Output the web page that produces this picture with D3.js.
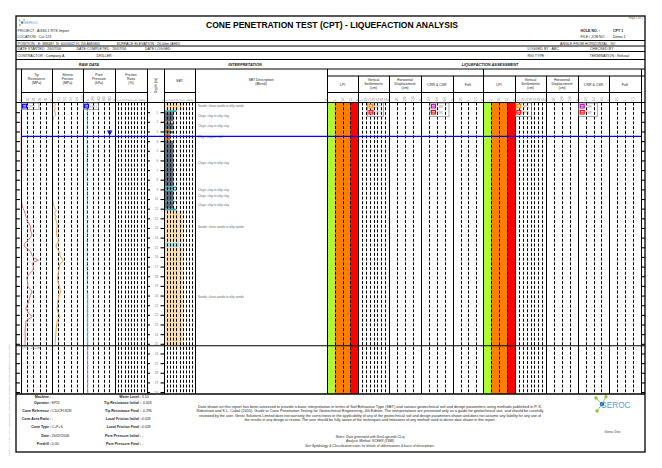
<!DOCTYPE html>
<html><head><meta charset="utf-8">
<script src="https://cdn.jsdelivr.net/npm/d3@7"></script>
<style>body{margin:0;background:#fff}svg{display:block}</style>
</head><body><svg id="c" width="662" height="468"></svg>
<script>
// ---------------- DATA ----------------
const depths = [0.0,0.2,0.4,0.6,0.8,1.0,1.3,1.5,2.0,3.0,4.0,5.0,6.0,7.0,8.0,8.8,9.2,10.0,10.5,10.8,11.0,11.2,11.5,11.8,12.0,12.2,12.5,12.9,13.2,13.5,13.75,14.0,14.3,14.6,14.8,15.0,15.3,15.5,15.8,16.1,16.35,16.5,16.7,17.0,17.4,17.7,18.1,18.5,19.1,19.4,19.6,20.0,20.5,21.0,21.35,21.8,22.2,22.6,23.0,23.6,24.2,25.0,25.2];
const tipResistance = [0.4,1.2,1.8,1.5,1.0,0.7,0.6,0.5,0.5,0.4,0.3,0.4,0.5,0.5,0.6,0.9,0.7,0.7,1.2,2.5,3.5,5.0,6.5,8.0,10.5,9.2,12.5,16.0,15.0,17.0,17.7,15.0,11.0,6.0,4.8,7.0,13.0,16.0,17.5,21.0,28.0,22.0,17.7,20.0,19.4,14.0,9.2,10.5,11.3,16.0,17.7,15.0,12.9,10.0,7.6,12.0,18.2,8.0,7.5,6.5,6.8,6.5,6.5];
const sleeveFriction = [0.01,0.065,0.03,0.06,0.04,0.05,0.06,0.025,0.01,0.008,0.006,0.006,0.008,0.008,0.01,0.012,0.01,0.01,0.02,0.035,0.05,0.07,0.04,0.065,0.05,0.065,0.08,0.085,0.07,0.075,0.075,0.09,0.11,0.08,0.065,0.07,0.1,0.13,0.125,0.15,0.175,0.17,0.13,0.12,0.11,0.1,0.09,0.095,0.12,0.13,0.14,0.11,0.095,0.09,0.08,0.1,0.13,0.085,0.075,0.065,0.06,0.05,0.05];
const porePressure = [0,2,0,-2,0,1,0,0,2,0,-1,0,0,1,0,0,2,0,0,-2,0,0,1,0,0,0,-1,0,0,2,0,0,0,-2,0,0,1,0,0,0,2,0,0,-1,0,0,0,1,0,0,0,-2,0,0,1,0,0,0,0,-1,0,0,0];
const hydroDepth = [19.7, 30.2];
const hydroPressure = [20, 20];

const sbtTop    = [0,0.8,1.0,1.95,2.1,2.8,2.95,3.2,3.95,8.7,8.85,9.0,9.15,10.2,10.3,11.0,11.2,14.5,15.0];
const sbtBottom = [0.8,1.0,1.95,2.1,2.8,2.95,3.2,3.95,8.7,8.85,9.0,9.15,10.2,10.3,11.0,11.2,14.5,15.0,25.2];
const sbtZone   = [6,4,3,2,3,2,3,2,3,4,3,4,3,4,3,4,6,5,6];

const descDepth = [0.36,1.39,2.38,3.56,6.26,9.06,9.68,10.6,12.9,20.1];
const descText = ["Sands: clean sands to silty sands","Clays: clay to silty clay","Clays: clay to silty clay","Clay - organic soil","Clays: clay to silty clay","Clays: clay to silty clay","Clays: clay to silty clay","Clays: clay to silty clay","Sands: clean sands to silty sands","Sands: clean sands to silty sands"];

const waterLevel = 3.5;
const endDepth = 25.2;
const lpiEdges = [0,5,15,20];

const tipTicks = [0,10,20,30,40];
const sleeveTicks = [0,0.1,0.2,0.3,0.4];
const poreTicks = [0,200,400,600,800];
const frTicks = [0,1,2,3,4,5,6,7,8,9];
const sbtTicks = [1,2,3,4,5,6,7,8,9];
const lpiTicks = [0,5,10,15];
const vsTicks = [0,5,10,15,20,25,30,35];
const hdTicks = [0,50,100,150];
const crrTicks = [0,0.2,0.4,0.6];
const fosTicks = [0,0.5,1,1.5];
const depthTicks = d3.range(1,31);

const footLeftLabels = ["Machine :","Operator :","Cone Reference :","Cone Area Ratio :","Cone Type :","Date :","Predrill :"];
const footLeftValues = ["-","EPI3","C10CFI.828/","-","C+F+S","26/07/2006","0.00"];
const footRightLabels = ["Water Level :","Tip Resistance Initial :","Tip Resistance Final :","Local Friction Initial :","Local Friction Final :","Pore Pressure Initial :","Pore Pressure Final :"];
const footRightValues = ["3.50","-0.026","-0.296","0.028","0.028","-","-"];

// ---------------- DRAW ----------------
const svg = d3.select('#c');
const F = '"Liberation Sans", Arial, Helvetica, sans-serif';
function T(x,y,s,o={}){
  const t=svg.append('text').attr('x',x).attr('y',y).text(s)
    .attr('font-size',o.size||3.6).attr('fill',o.fill||'#111')
    .attr('text-anchor',o.anchor||'start').attr('font-family',F);
  if(o.bold) t.attr('font-weight','bold');
  if(o.italic) t.attr('font-style','italic');
  if(o.len) t.attr('textLength',o.len).attr('lengthAdjust','spacingAndGlyphs');
  if(o.rot) t.attr('transform',`rotate(${o.rot},${x},${y})`);
  return t;
}
function L(x1,y1,x2,y2,o={}){
  const l=svg.append('line').attr('x1',x1).attr('y1',y1).attr('x2',x2).attr('y2',y2)
    .attr('stroke',o.stroke||'#000').attr('stroke-width',o.w||1);
  if(o.dash) l.attr('stroke-dasharray',o.dash);
  return l;
}
const P = v => Math.round(v)+0.5;

const X0=16, X1=645, Y0=16, Y1=452;
const plotTop=102.5, plotBot=394;
const y = d3.scaleLinear().domain([0,30.2]).range([plotTop,plotBot]);

const cols = {
  tip:[21,52], sleeve:[52,83], pore:[83,115], fr:[115,147], depth:[147,164], sbt:[164,195], desc:[195,327],
  lpi1:[327,358], vs1:[358,389], hd1:[389,421], crr1:[421,453], fos1:[453,483],
  lpi2:[483,515], vs2:[515,546], hd2:[546,578], crr2:[578,609], fos2:[609,641]
};
const xTip = d3.scaleLinear().domain([0,50]).range(cols.tip);
const xSleeve = d3.scaleLinear().domain([0,0.5]).range(cols.sleeve);
const xPore = d3.scaleLinear().domain([-150,1000]).range(cols.pore);
const xFr = d3.scaleLinear().domain([0,10]).range(cols.fr);
const xSbt = d3.scaleLinear().domain([0,10]).range(cols.sbt);
const mk = (c,d)=>d3.scaleLinear().domain(d).range(cols[c]);
const xLpi1=mk('lpi1',[0,20]), xLpi2=mk('lpi2',[0,20]);
const xVs1=mk('vs1',[0,40]), xVs2=mk('vs2',[0,40]);
const xHd1=mk('hd1',[0,200]), xHd2=mk('hd2',[0,200]);
const xCrr1=mk('crr1',[0,0.8]), xCrr2=mk('crr2',[0,0.8]);
const xFos1=mk('fos1',[0,2]), xFos2=mk('fos2',[0,2]);

// LPI colour bands
const bandColors=['#ADFF2F','#FF8000','#FF0000'];
[xLpi1,xLpi2].forEach(sc=>{
  svg.append('g').selectAll('rect').data(d3.range(3)).join('rect')
    .attr('x',i=>sc(lpiEdges[i])).attr('width',i=>sc(lpiEdges[i+1])-sc(lpiEdges[i]))
    .attr('y',plotTop).attr('height',plotBot-plotTop).attr('fill',i=>bandColors[i]);
});

// SBT bars
const sbtColor={2:'#C97A22',3:'#5F6F80',4:'#2FB4B4',5:'#A6E3E6',6:'#FBDDB0'};
svg.append('g').selectAll('rect').data(sbtZone).join('rect')
  .attr('x',cols.sbt[0]).attr('width',z=>xSbt(z)-cols.sbt[0])
  .attr('y',(z,i)=>y(sbtTop[i])).attr('height',(z,i)=>y(sbtBottom[i])-y(sbtTop[i]))
  .attr('fill',z=>sbtColor[z]);

// dashed gridlines
function grid(sc,ticks,c){
  ticks.forEach(t=>{ const xv=sc(t); if(xv<=cols[c][0]+0.6) return;
    L(P(xv),plotTop,P(xv),plotBot,{dash:'3,1.7',w:1}); });
}
grid(xTip,tipTicks,'tip'); grid(xSleeve,sleeveTicks,'sleeve'); grid(xPore,poreTicks,'pore');
grid(xFr,frTicks,'fr'); grid(xSbt,sbtTicks,'sbt');
grid(xLpi1,lpiTicks,'lpi1'); grid(xLpi2,lpiTicks,'lpi2');
grid(xVs1,vsTicks,'vs1'); grid(xVs2,vsTicks,'vs2');
grid(xHd1,hdTicks,'hd1'); grid(xHd2,hdTicks,'hd2');
grid(xCrr1,crrTicks,'crr1'); grid(xCrr2,crrTicks,'crr2');
grid(xFos1,fosTicks,'fos1'); grid(xFos2,fosTicks,'fos2');

// tick labels row
function tlab(sc,ticks){ ticks.forEach(t=>{ T(sc(t)+1.4,101,String(t),{size:2.8,fill:'#888',rot:-90}); }); }
tlab(xTip,tipTicks); tlab(xSleeve,sleeveTicks); tlab(xPore,[-150].concat(poreTicks)); tlab(xFr,frTicks); tlab(xSbt,[0].concat(sbtTicks));
tlab(xLpi1,lpiTicks); tlab(xLpi2,lpiTicks); tlab(xVs1,vsTicks); tlab(xVs2,vsTicks);
tlab(xHd1,hdTicks); tlab(xHd2,hdTicks); tlab(xCrr1,crrTicks); tlab(xCrr2,crrTicks); tlab(xFos1,fosTicks); tlab(xFos2,fosTicks);

// data lines
const idx = d3.range(depths.length);
svg.append('path').datum(idx).attr('fill','none').attr('stroke','#F07070').attr('stroke-width',1)
  .attr('d',d3.line().x(i=>xTip(tipResistance[i])).y(i=>y(depths[i])));
svg.append('path').datum(idx).attr('fill','none').attr('stroke','#F5A04A').attr('stroke-width',1)
  .attr('d',d3.line().x(i=>xSleeve(sleeveFriction[i])).y(i=>y(depths[i])));
svg.append('path').datum(idx).attr('fill','none').attr('stroke','#1EC8D8').attr('stroke-width',1).attr('stroke-dasharray','1.5,1')
  .attr('d',d3.line().x(i=>xPore(porePressure[i])).y(i=>y(depths[i])));
svg.append('path').datum([0,1]).attr('fill','none').attr('stroke','#9A9AF5').attr('stroke-width',1)
  .attr('d',d3.line().x(i=>xPore(hydroPressure[i])).y(i=>y(hydroDepth[i])));

// SBT descriptions
descText.forEach((s,i)=>T(198,y(descDepth[i])+1.2,s,{size:3.1,fill:'#666'}));

// column separators
[21,52,83,115,147,164,195,327,358,389,421,453,483,515,546,578,609,641].forEach(xv=>{
  const top = xv>327 && xv!==483 && xv!==641 ? 76 : 69;
  L(P(xv),top,P(xv),plotBot,{w:1});
});
L(P(483),69,P(483),76,{w:1});

// header lines
[40.5,46,51.5,59.5,69].forEach(v=>L(X0,v,X1,v,{w:1}));
L(327,76,X1,76,{w:1});
L(21,92.5,147,92.5,{w:1}); L(164,92.5,195,92.5,{w:1}); L(327,92.5,641,92.5,{w:1});
L(X0,plotTop,X1,plotTop,{w:1.2});
L(X0,plotBot,X1,plotBot,{w:1.3});

// end of test line & water level
L(X0,y(endDepth),X1,y(endDepth),{w:1.2});
T(21.5,y(endDepth)+3.6,"CPT1 : 25.20m",{size:2.8,fill:'#777'});
L(21,y(waterLevel),641,y(waterLevel),{stroke:'#0000FF',w:1.2});
const wx = xPore(800)+0.3, wy=y(waterLevel)-0.8;
svg.append('path').attr('d',`M${wx-2.4},${wy-4.2}L${wx+2.4},${wy-4.2}L${wx},${wy}Z`).attr('fill','#0000CC');
L(wx-2.6,wy-4.6,wx+2.6,wy-4.6,{stroke:'#0000CC',w:0.8});

// depth axes
const axL = svg.append('g').attr('transform',`translate(${X0},0)`).call(d3.axisRight(y).tickValues(depthTicks).tickSize(4).tickFormat(''));
const axR = svg.append('g').attr('transform',`translate(${X1},0)`).call(d3.axisLeft(y).tickValues(depthTicks).tickSize(4).tickFormat(''));
const axD1 = svg.append('g').attr('transform',`translate(147,0)`).call(d3.axisRight(y).tickValues(depthTicks).tickSize(3).tickFormat(''));
const axD2 = svg.append('g').attr('transform',`translate(164,0)`).call(d3.axisLeft(y).tickValues(depthTicks).tickSize(3.5).tickPadding(2.5));
[axL,axR,axD1,axD2].forEach(g=>{ g.select('.domain').remove(); g.selectAll('line').attr('stroke','#000').attr('stroke-width',1.1); });
axD2.selectAll('text').attr('font-size',2.9).attr('fill','#777').attr('font-family',F);

// legends
function icon(x,yy,c){
  svg.append('rect').attr('x',x).attr('y',yy).attr('width',4).attr('height',3.6).attr('fill','#fff').attr('stroke',c).attr('stroke-width',1.1);
  L(x,yy+1.8,x+4,yy+1.8,{stroke:c,w:0.9});
}
function legBox(x,yy,w,h){ svg.append('rect').attr('x',x).attr('y',yy).attr('width',w).attr('height',h).attr('fill','none').attr('stroke','#888').attr('stroke-width',0.7); }
legBox(21.5,103,17.5,6.5); icon(22.6,104.3,'#0000FF'); T(28,107.5,"CPT1",{size:2.7,fill:'#888'});
legBox(83.5,103,15,6.5); icon(84.6,104.3,'#0000FF'); T(90,107.5,"CPT1",{size:2.7,fill:'#888'});
[[367.5,369,'#FF8000','#FF0000',"CPT1","CPT1",16],[430,431.5,'#CC00CC','#FF0000',"CRR","CSR",19],
 [515.5,516.8,'#FF8000','#FF0000',"CPT1","CPT1",16],[578.8,580.2,'#CC00CC','#FF0000',"CRR","CSR",18.5]].forEach(d=>{
  legBox(d[0],103,d[6],13.5); icon(d[1],104.4,d[2]); icon(d[1],110.4,d[3]);
  T(d[1]+5.5,107.6,d[4],{size:2.7,fill:'#888'}); T(d[1]+5.5,113.6,d[5],{size:2.7,fill:'#888'});
});

// outer frame
svg.append('rect').attr('x',X0).attr('y',Y0).attr('width',X1-X0).attr('height',Y1-Y0).attr('fill','none').attr('stroke','#000').attr('stroke-width',1.3);

// ---------------- HEADER TEXT ----------------
T(332,28,"CONE PENETRATION TEST (CPT) - LIQUEFACTION ANALYSIS",{size:8.6,bold:true,anchor:'middle',len:252,fill:'#000'});
T(643,19,"Page 1 of 1",{size:2.8,anchor:'end',fill:'#555'});
// small top logo
[[19.5,20.5,'#8DC63F'],[24,19.8,'#8DC63F'],[20,25,'#8DC63F']].forEach(c=>svg.append('circle').attr('cx',c[0]).attr('cy',c[1]).attr('r',0.9).attr('fill',c[2]));
svg.append('circle').attr('cx',22).attr('cy',22.5).attr('r',1.2).attr('fill','#3A7FC4');
T(23,24.2,"GEROC",{size:4.2,fill:'#5B9BD5'});

const hs=3.6, hc='#222';
T(17.5,31.5,"PROJECT :  AGS3.1 RTS Import",{size:hs,fill:hc});
T(17.5,37.8,"LOCATION :  Cut 123",{size:hs,fill:hc});
T(17.5,44.5,"POSITION :  E: 388487, N: 6003442.91 (56 AMG84)",{size:hs,fill:hc});
T(116.5,44.5,"SURFACE ELEVATION :  26.00m (AHD)",{size:hs,fill:hc});
T(17.5,50,"DATE STARTED :  26/07/06",{size:hs,fill:hc});
T(76.5,50,"DATE COMPLETED :  26/07/06",{size:hs,fill:hc});
T(145,50,"DATE LOGGED :",{size:hs,fill:hc});
T(17.5,56.5,"CONTRACTOR :  Company A",{size:hs,fill:hc});
T(96.5,56.5,"DRILLER :",{size:hs,fill:hc});
T(580.5,31.5,"HOLE NO. :",{size:hs,fill:hc,bold:true});
T(613,31.5,"CPT 1",{size:hs,fill:hc,bold:true});
T(580.5,37.8,"FILE / JOB NO. :",{size:hs,fill:hc});
T(613,37.8,"Demo 1",{size:hs,fill:hc});
T(560,44.5,"ANGLE FROM HORIZONTAL : 90°",{size:hs,fill:hc});
T(527.5,50,"LOGGED BY :  ABC",{size:hs,fill:hc});
T(590,50,"CHECKED BY :",{size:hs,fill:hc});
T(527.5,56.5,"RIG TYPE :",{size:hs,fill:hc});
T(589.5,56.5,"TERMINATION :  Refusal",{size:hs,fill:hc});

T(89,65.8,"RAW DATA",{size:3.9,bold:true,italic:true,anchor:'middle'});
T(245,65.8,"INTERPRETATION",{size:3.9,bold:true,italic:true,anchor:'middle'});
T(490,65.8,"LIQUEFACTION ASSESSMENT",{size:3.9,bold:true,italic:true,anchor:'middle'});

function head(cx,lines,y0,step){ lines.forEach((s,i)=>T(cx,y0+i*step,s,{size:3.5,anchor:'middle',fill:'#222'})); }
head(36.5,["Tip","Resistance","(MPa)"],75.5,4);
head(67.5,["Sleeve","Friction","(MPa)"],75.5,4);
head(99,["Pore","Pressure","(kPa)"],75.5,4);
head(131,["Friction","Ratio","(%)"],75.5,4);
T(157,85.5,"Depth (m)",{size:3.5,anchor:'middle',rot:-90,fill:'#222'});
head(179.5,["SBT"],81.5,4);
head(261,["SBT Description","(Blend)"],81,4);
[[cols.lpi1,cols.vs1,cols.hd1,cols.crr1,cols.fos1],[cols.lpi2,cols.vs2,cols.hd2,cols.crr2,cols.fos2]].forEach(g=>{
  const c=a=>(a[0]+a[1])/2;
  head(c(g[0]),["LPI"],85.5,4);
  head(c(g[1]),["Vertical","Settlements","(cm)"],81,4);
  head(c(g[2]),["Horizontal","Displacement","(cm)"],81,4);
  head(c(g[3]),["CRR & CSR"],85.5,4);
  head(c(g[4]),["FoS"],85.5,4);
});

// ---------------- FOOTER ----------------
const fy=[397.8,404,412,420,428.3,436.7,445];
footLeftLabels.forEach((s,i)=>{ T(51,fy[i],s,{size:3.5,bold:true,anchor:'end',fill:'#222'}); T(51.8,fy[i],footLeftValues[i],{size:3.5,fill:'#222'}); });
footRightLabels.forEach((s,i)=>{ T(141,fy[i],s,{size:3.5,bold:true,anchor:'end',fill:'#222'}); T(141.8,fy[i],footRightValues[i],{size:3.5,fill:'#222'}); });

const disc=["Data shown on this report has been assessed to provide a basic interpretation in terms of Soil Behaviour Type (SBT) and various geotechnical soil and design parameters using methods published in P. K.",
"Robertson and K.L. Cabal (2010), Guide to Cone Penetration Testing for Geotechnical Engineering, 4th Edition. The interpretations are presented only as a guide for geotechnical use, and should be carefully",
"reviewed by the user. Geroc Solutions Limited does not warranty the correctness or the applicability of any of the geotechnical soil and design parameters shown and does not assume any liability for any use of",
"the results in any design or review. The user should be fully aware of the techniques and limitations of any method used to derive data shown in this report."];
const dlen=[344,347,342,251], dy=[407.5,412,416.5,421];
disc.forEach((s,i)=>T(370,dy[i],s,{size:3.3,anchor:'middle',len:dlen[i],fill:'#222'}));
T(370,438,"Notes: Data generated with GeoLogismiki CLiq",{size:3.3,italic:true,anchor:'middle',fill:'#222'});
T(370,442,"Analysis Method: NCEER (1998)",{size:3.3,italic:true,anchor:'middle',fill:'#222'});
T(370,446.5,"See Symbology & Classification notes for details of abbreviations & basis of descriptions.",{size:3.3,italic:true,anchor:'middle',fill:'#222'});
T(612.5,433,"Geroc Dev",{size:3.3,anchor:'middle',fill:'#333'});

// bottom logo
[[596,398],[606,396.8],[597,411]].forEach(c=>{ L(c[0],c[1],602,404,{stroke:'#8DC63F',w:0.9}); svg.append('circle').attr('cx',c[0]).attr('cy',c[1]).attr('r',1.7).attr('fill','#8DC63F'); });
svg.append('circle').attr('cx',602).attr('cy',404).attr('r',2.3).attr('fill','#2F6FB8');
T(600.5,407.6,"GEROC",{size:9,fill:'#5B9BD5',len:30});

// left margin vertical note
T(10,456,"CLiq v.1.7.6.49 - CPT Liquefaction Assessment Software - Report created on: 26/07/2006",{size:2.5,fill:'#999',rot:-90,len:112});
</script>
</body></html>
